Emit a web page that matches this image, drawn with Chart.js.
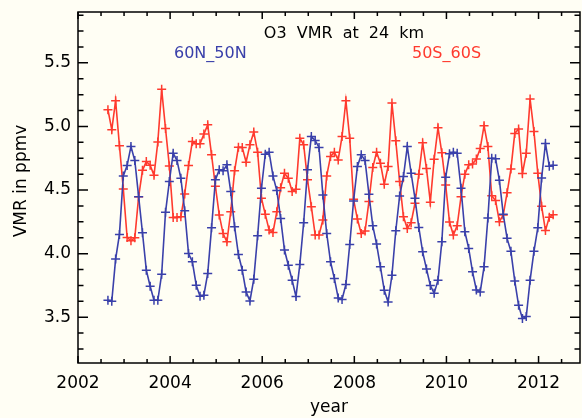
<!DOCTYPE html>
<html>
<head>
<meta charset="utf-8">
<title>O3 VMR at 24 km</title>
<script src="https://cdn.jsdelivr.net/npm/chart.js@4.4.1/dist/chart.umd.min.js"></script>
<style>
  html, body { margin: 0; padding: 0; background: #fffef4; overflow: hidden; }
  canvas { display: block; }
</style>
</head>
<body>
<canvas id="chart" width="582" height="418"></canvas>
<script>
// monthly means, first month at startYear, one value per month
var startYear = 2002.65;

var north = [
  3.633, 3.625, 3.957, 4.151, 4.611, 4.693, 4.843, 4.732, 4.448, 4.164,
  3.870, 3.744, 3.633, 3.633, 3.838, 4.325, 4.567, 4.790, 4.732, 4.593,
  4.338, 4.001, 3.936, 3.752, 3.665, 3.673, 3.844, 4.204, 4.580, 4.659,
  4.651, 4.698, 4.488, 4.212, 3.993, 3.870, 3.699, 3.628, 3.799, 4.141,
  4.514, 4.782, 4.798, 4.611, 4.496, 4.277, 4.028, 3.909, 3.791, 3.662,
  3.915, 4.243, 4.659, 4.921, 4.890, 4.835, 4.461, 4.159, 3.936, 3.804,
  3.652, 3.640, 3.757, 4.072, 4.414, 4.685, 4.777, 4.732, 4.467, 4.220,
  4.075, 3.896, 3.712, 3.620, 3.830, 4.180, 4.453, 4.606, 4.843, 4.632,
  4.435, 4.206, 4.014, 3.880, 3.750, 3.688, 3.791, 4.093, 4.600, 4.785,
  4.797, 4.790, 4.514, 4.172, 4.041, 3.857, 3.715, 3.699, 3.896, 4.280,
  4.750, 4.747, 4.577, 4.310, 4.120, 4.018, 3.785, 3.594, 3.489, 3.505,
  3.791, 4.018, 4.203, 4.595, 4.866, 4.688, 4.695
];

var south = [
  5.132, 4.974, 5.203, 4.848, 4.509, 4.127, 4.101, 4.125, 4.448, 4.655,
  4.724, 4.695, 4.616, 4.878, 5.292, 4.984, 4.690, 4.285, 4.285, 4.290,
  4.469, 4.693, 4.882, 4.864, 4.864, 4.940, 5.013, 4.777, 4.530, 4.304,
  4.158, 4.093, 4.330, 4.651, 4.837, 4.835, 4.719, 4.856, 4.956, 4.798,
  4.435, 4.309, 4.185, 4.167, 4.330, 4.519, 4.632, 4.593, 4.488, 4.506,
  4.908, 4.856, 4.580, 4.369, 4.146, 4.146, 4.264, 4.611, 4.764, 4.798,
  4.737, 4.921, 5.203, 4.908, 4.427, 4.272, 4.159, 4.177, 4.409, 4.677,
  4.798, 4.711, 4.546, 4.685, 5.184, 4.887, 4.567, 4.290, 4.198, 4.243,
  4.396, 4.624, 4.871, 4.669, 4.405, 4.743, 4.990, 4.793, 4.540, 4.248,
  4.146, 4.220, 4.448, 4.625, 4.698, 4.705, 4.744, 4.826, 5.006, 4.843,
  4.455, 4.418, 4.251, 4.304, 4.478, 4.665, 4.945, 4.980, 4.630, 4.790,
  5.216, 4.961, 4.632, 4.372, 4.181, 4.287, 4.306
];

var xTicks = [2002, 2004, 2006, 2008, 2010, 2012];
var yTicks = [3.5, 4.0, 4.5, 5.0, 5.5];

var BLUE = '#3a40aa';
var RED = '#ff3a2e';
var FONT = '"DejaVu Sans", sans-serif';

function toPoints(values) {
  return values.map(function (v, i) {
    return { x: startYear + i / 12, y: v };
  });
}

Chart.defaults.font.family = FONT;
Chart.defaults.font.size = 17;
Chart.defaults.color = '#000';

// cream page, box round the plot, inward ticks on all four sides, text labels
var frame = {
  id: 'frame',
  beforeDraw: function (chart) {
    var ctx = chart.ctx;
    ctx.save();
    ctx.fillStyle = '#fffef4';
    ctx.fillRect(0, 0, chart.width, chart.height);
    ctx.restore();
  },
  afterDraw: function (chart) {
    var ctx = chart.ctx, a = chart.chartArea;
    var xs = chart.scales.x, ys = chart.scales.y;
    ctx.save();
    ctx.strokeStyle = '#000';
    ctx.lineWidth = 1.5;
    ctx.strokeRect(a.left, a.top, a.right - a.left, a.bottom - a.top);
    ctx.beginPath();
    var v, p, len;
    for (v = xs.min; v <= xs.max + 1e-9; v += 0.5) {
      p = xs.getPixelForValue(v);
      len = Math.abs(v / 2 - Math.round(v / 2)) < 1e-6 ? 7 : 4;
      ctx.moveTo(p, a.bottom); ctx.lineTo(p, a.bottom - len);
      ctx.moveTo(p, a.top); ctx.lineTo(p, a.top + len);
    }
    for (v = 3.25; v <= ys.max + 1e-9; v += 0.125) {
      if (v < ys.min) continue;
      p = ys.getPixelForValue(v);
      len = Math.abs(v * 2 - Math.round(v * 2)) < 1e-6 ? 10 : 5.5;
      ctx.moveTo(a.left, p); ctx.lineTo(a.left + len, p);
      ctx.moveTo(a.right, p); ctx.lineTo(a.right - len, p);
    }
    ctx.stroke();

    // y axis title, a little above the middle of the plot
    ctx.fillStyle = '#000';
    ctx.font = '17px ' + FONT;
    ctx.textAlign = 'center';
    ctx.textBaseline = 'middle';
    ctx.translate(22, 181);
    ctx.rotate(-Math.PI / 2);
    ctx.fillText('VMR in ppmv', 0, 0);
    ctx.setTransform(1, 0, 0, 1, 0, 0);

    ctx.font = '16px ' + FONT;
    ctx.textBaseline = 'alphabetic';
    ctx.textAlign = 'center';
    ctx.wordSpacing = '5px';
    ctx.fillText('O3 VMR at 24 km', 344, 38);
    ctx.textAlign = 'left';
    ctx.fillStyle = BLUE;
    ctx.fillText('60N_50N', 174, 57.5);
    ctx.fillStyle = RED;
    ctx.fillText('50S_60S', 412, 57.5);
    ctx.restore();
  }
};

var config = {
  type: 'line',
  data: {
    datasets: [{
      label: '60N_50N',
      data: toPoints(north),
      borderColor: BLUE,
      pointStyle: 'cross'
    }, {
      label: '50S_60S',
      data: toPoints(south),
      borderColor: RED,
      pointStyle: 'cross'
    }]
  },
  options: {
    responsive: false,
    animation: false,
    layout: { autoPadding: false, padding: { top: 12, right: 2, left: 0, bottom: 0 } },
    elements: {
      line: { borderWidth: 1.6, tension: 0 },
      point: { radius: 4.5, borderWidth: 1.5, hoverRadius: 4.5 }
    },
    datasets: {
      line: {
        pointBorderColor: function (c) { return c.dataset.borderColor; }
      }
    },
    plugins: {
      legend: { display: false },
      tooltip: { enabled: false }
    },
    scales: {
      x: {
        type: 'linear',
        min: 2002,
        max: 2012.9,
        grid: { display: false, drawTicks: false },
        border: { display: false },
        afterBuildTicks: function (s) {
          s.ticks = xTicks.map(function (v) { return { value: v }; });
        },
        afterFit: function (s) {
          s.height = 55;
          s.paddingLeft = 0;
          s.paddingRight = 0;
        },
        ticks: { padding: 10, maxRotation: 0, autoSkip: false, callback: function (v) { return String(v); } },
        title: { display: true, text: 'year', padding: { top: 0, bottom: 0 } }
      },
      y: {
        min: 3.14,
        max: 5.9,
        grid: { display: false, drawTicks: false },
        border: { display: false },
        afterBuildTicks: function (s) {
          s.ticks = yTicks.map(function (v) { return { value: v }; });
        },
        afterFit: function (s) {
          s.width = 78;
          s.paddingTop = 0;
          s.paddingBottom = 0;
        },
        ticks: { padding: 7, callback: function (v) { return v.toFixed(1); } },
        title: { display: false }
      }
    }
  },
  plugins: [frame]
};

window.onload = function () {
  var ctx = document.getElementById('chart').getContext('2d');
  window.myChart = new Chart(ctx, config);
};
</script>
</body>
</html>
